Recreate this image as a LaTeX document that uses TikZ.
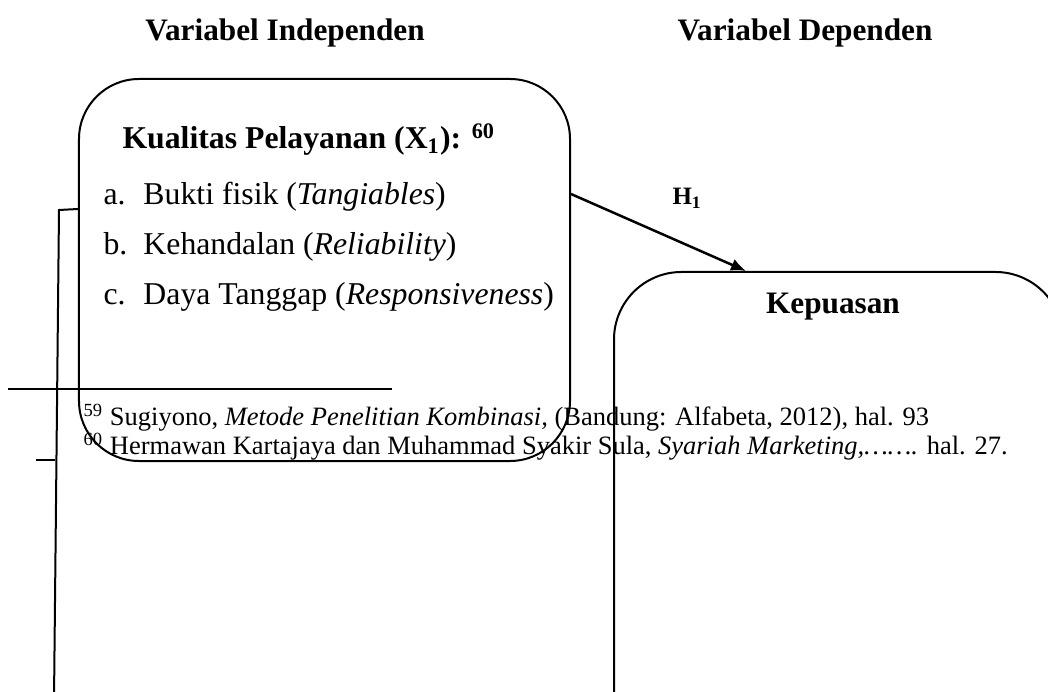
\documentclass[tikz,border=0pt]{standalone}
\usepackage{fontspec}
\setmainfont{Liberation Serif}
\usetikzlibrary{arrows.meta,calc}
\begin{document}
\begin{tikzpicture}[x=0.4pt,y=-0.4pt,
  box/.style={draw, line width=0.8pt, inner sep=0pt},
  lbl/.style={inner sep=0pt, anchor=base west, font=\fontsize{12.7}{15}\selectfont},
  hd/.style={inner sep=0pt, anchor=base, font=\fontsize{12.5}{15}\selectfont\bfseries},
  fn/.style={inner sep=0pt, anchor=base west, font=\fontsize{10.6}{13}\selectfont},
  ln/.style={line width=0.8pt},
  arr/.style={line width=1pt, -{Latex[length=6pt,width=5pt]}}]
\useasboundingbox (0,0) rectangle (1048,692);
\clip (0,0) rectangle (1048,692);
% titles
\node[hd] (vi) at (285,41) {Variabel Independen};
\node[hd] (vd) at (805,41) {Variabel Dependen};
% boxes
\node[box, rounded corners=24pt, minimum width=196.4pt, minimum height=152.8pt] (kp) at (324.5,270) {};
\node[box, rounded corners=27pt, minimum width=179.6pt, minimum height=251.2pt] (kep) at (838.5,586) {};
% left box texts
\node[lbl, font=\fontsize{12.7}{15}\selectfont\bfseries] (kt) at (122,149) {Kualitas Pelayanan (X\textsubscript{1}): \textsuperscript{60}};
\node[lbl] (ia) at (103,205) {a.};
\node[lbl] (ta) at (143,205) {Bukti fisik (\textit{Tangiables})};
\node[lbl] (ib) at (103,255) {b.};
\node[lbl] (tb) at (143,255) {Kehandalan (\textit{Reliability})};
\node[lbl] (ic) at (103,305) {c.};
\node[lbl] (tc) at (143,305) {Daya Tanggap (\textit{Responsiveness})};
% right box text
\node[hd] (kq) at (833,314) {Kepuasan};
% arrow
\coordinate (as) at ([yshift=-46.4pt]kp.north east);
\coordinate (ae) at ([xshift=53.2pt]kep.north west);
\draw[arr] (as) -- (ae);
\node[inner sep=0pt, anchor=base west, font=\fontsize{10}{12}\selectfont\bfseries] (h1) at (672,205) {H\textsubscript{1}};
% footnote rule and footnotes
\coordinate (r1) at (8,389);
\coordinate (r2) at (392,389);
\draw[line width=1pt] (r1) -- (r2);
\node[fn] (f1) at (83,426) {\textsuperscript{59} Sugiyono, \textit{Metode Penelitian Kombinasi,} (Bandung: Alfabeta, 2012), hal. 93};
\node[fn] (f2) at (83,455) {\textsuperscript{60} Hermawan Kartajaya dan Muhammad Syakir Sula, \textit{Syariah Marketing,…….} hal. 27.};
% stray connector at left
\coordinate (c1) at ([yshift=-52.4pt]kp.north west);
\coordinate (c2) at (59,210);
\coordinate (c3) at (54,700);
\draw[ln] (c1) -- (c2) -- (c3);
\coordinate (s1) at (36,460);
\coordinate (s2) at (55,460);
\draw[ln] (s1) -- (s2);
\end{tikzpicture}
\end{document}
